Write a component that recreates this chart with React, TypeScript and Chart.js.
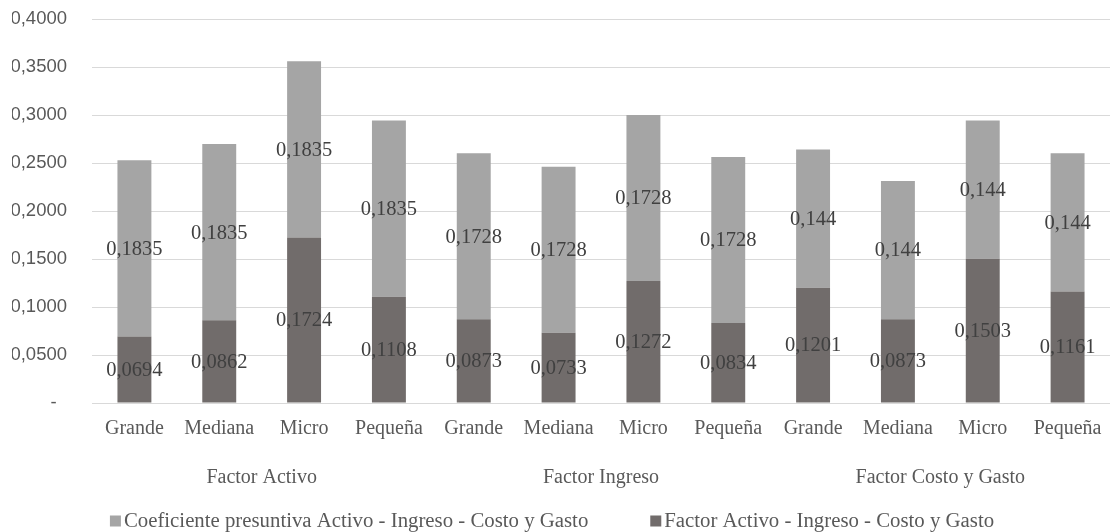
import React, { useEffect, useRef } from "react";
import { Chart, registerables } from "chart.js";

Chart.register(...registerables);

const categories = [
  "Grande", "Mediana", "Micro", "Pequeña",
  "Grande", "Mediana", "Micro", "Pequeña",
  "Grande", "Mediana", "Micro", "Pequeña",
];
const groups = ["Factor Activo", "Factor Ingreso", "Factor Costo y Gasto"];
const factorValues = [0.0694, 0.0862, 0.1724, 0.1108, 0.0873, 0.0733, 0.1272, 0.0834, 0.1201, 0.0873, 0.1503, 0.1161];
const coefValues = [0.1835, 0.1835, 0.1835, 0.1835, 0.1728, 0.1728, 0.1728, 0.1728, 0.144, 0.144, 0.144, 0.144];
const seriesNames = [
  "Factor Activo - Ingreso - Costo y Gasto",
  "Coeficiente presuntiva Activo - Ingreso - Costo y Gasto",
];
const seriesColors = ["#716c6b", "#a5a5a5"];
const yMin = 0;
const yMax = 0.4;
const yStep = 0.05;

const SERIF = '"Liberation Serif", "Times New Roman", serif';
const SANS = '"Liberation Sans", Arial, sans-serif';

const fmt = (v: number) => String(v).replace(".", ",");

const dataLabelPlugin = {
  id: "dataLabels",
  afterDatasetsDraw(chart: any) {
    const ctx = chart.ctx;
    ctx.save();
    ctx.font = `20.5px ${SERIF}`;
    ctx.fillStyle = "#404040";
    ctx.textAlign = "center";
    ctx.textBaseline = "middle";
    chart.data.datasets.forEach((ds: any, i: number) => {
      const meta = chart.getDatasetMeta(i);
      meta.data.forEach((el: any, j: number) => {
        const p = el.getProps(["x", "y", "base"], true);
        ctx.fillText(fmt(ds.data[j]), p.x, (p.y + p.base) / 2 + 1);
      });
    });
    ctx.restore();
  },
};

const legendPlugin = {
  id: "customLegend",
  afterDraw(chart: any) {
    const ctx = chart.ctx;
    ctx.save();
    ctx.font = `20.8px ${SERIF}`;
    ctx.textBaseline = "middle";
    ctx.textAlign = "left";
    const ds = chart.data.datasets;
    const order = [1, 0];
    const box = 11;
    const gapBox = 3;
    const gapItem = 62;
    const widths = order.map((i) => box + gapBox + ctx.measureText(ds[i].label).width);
    const total = widths.reduce((a: number, b: number) => a + b, 0) + gapItem * (order.length - 1);
    let x = chart.width / 2 - total / 2 - 3;
    const y = chart.height - 11;
    order.forEach((i, k) => {
      ctx.fillStyle = ds[i].backgroundColor;
      ctx.fillRect(x, y - box / 2, box, box);
      ctx.fillStyle = "#595959";
      ctx.fillText(ds[i].label, x + box + gapBox, y + 1);
      x += widths[k] + gapItem;
    });
    ctx.restore();
  },
};

export default function App() {
  const canvasRef = useRef<HTMLCanvasElement | null>(null);

  useEffect(() => {
    document.body.style.margin = "0";
    const canvas = canvasRef.current;
    if (!canvas) return;
    const chart = new Chart(canvas, {
      type: "bar",
      data: {
        labels: categories,
        datasets: [
          {
            label: seriesNames[0],
            data: factorValues,
            backgroundColor: seriesColors[0],
            xAxisID: "x",
            barPercentage: 0.4,
            categoryPercentage: 1,
          },
          {
            label: seriesNames[1],
            data: coefValues,
            backgroundColor: seriesColors[1],
            xAxisID: "x",
            barPercentage: 0.4,
            categoryPercentage: 1,
          },
        ],
      },
      options: {
        animation: false,
        responsive: true,
        maintainAspectRatio: false,
        layout: { padding: { top: 19, left: 12, right: 0, bottom: 42 } },
        plugins: {
          legend: { display: false },
          tooltip: { enabled: false },
        },
        scales: {
          x: {
            stacked: true,
            weight: 0,
            grid: { display: false, drawTicks: false },
            border: { display: false },
            ticks: {
              autoSkip: false,
              maxRotation: 0,
              padding: 14,
              color: "#595959",
              font: { family: SERIF, size: 20 },
            },
            afterFit: (s: any) => {
              s.height = 38;
              s.paddingLeft = 0;
              s.paddingRight = 0;
            },
          },
          x2: {
            type: "category",
            position: "bottom",
            labels: groups,
            offset: true,
            weight: 1,
            grid: { display: false, drawTicks: false },
            border: { display: false },
            ticks: {
              autoSkip: false,
              maxRotation: 0,
              padding: 25,
              color: "#595959",
              font: { family: SERIF, size: 20 },
            },
            afterFit: (s: any) => {
              s.height = 49;
              s.paddingLeft = 0;
              s.paddingRight = 0;
            },
          },
          y: {
            stacked: true,
            min: yMin,
            max: yMax,
            grid: { color: "#d9d9d9", lineWidth: 1, drawTicks: false },
            border: { display: false },
            ticks: {
              stepSize: yStep,
              padding: 25,
              color: "#595959",
              font: { family: SANS, size: 18.5 },
              callback: (v: any) => (Math.abs(Number(v)) < 1e-9 ? "-  " : Number(v).toFixed(4).replace(".", ",")),
            },
            afterFit: (s: any) => {
              s.width = 80;
              s.paddingTop = 0;
              s.paddingBottom = 0;
            },
          },
        },
      },
      plugins: [dataLabelPlugin, legendPlugin],
    });
    return () => chart.destroy();
  }, []);

  return (
    <div style={{ width: 1110, height: 532, position: "relative", background: "#ffffff" }}>
      <canvas ref={canvasRef} />
    </div>
  );
}
